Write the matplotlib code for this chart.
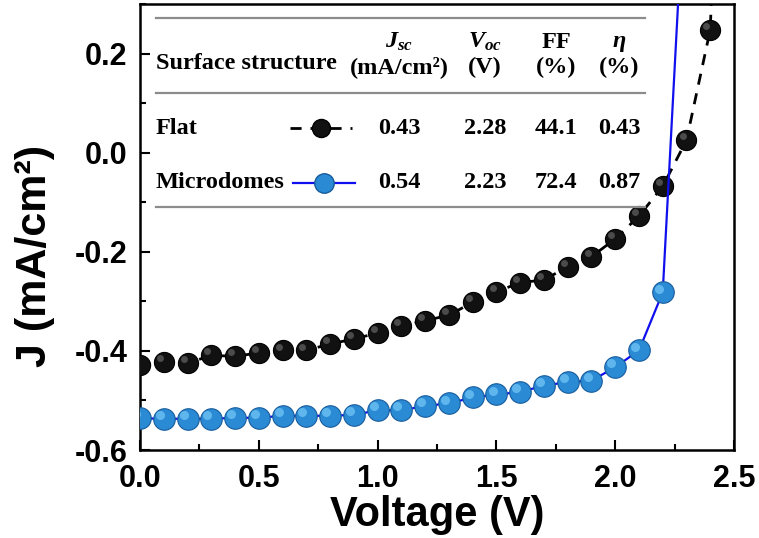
import matplotlib
matplotlib.use('Agg')
import matplotlib.pyplot as plt
import matplotlib.transforms as mtransforms
from matplotlib.lines import Line2D
from matplotlib.ticker import MultipleLocator

# ---------------- data ----------------
voltage_flat = [0.0, 0.1, 0.2, 0.3, 0.4, 0.5, 0.6, 0.7, 0.8, 0.9, 1.0, 1.1, 1.2,
                1.3, 1.4, 1.5, 1.6, 1.7, 1.8, 1.9, 2.0, 2.1, 2.2, 2.3, 2.4, 2.5]
j_flat = [-0.429, -0.423, -0.425, -0.409, -0.411, -0.404, -0.399, -0.399, -0.386,
          -0.376, -0.364, -0.350, -0.339, -0.328, -0.302, -0.281, -0.262, -0.257,
          -0.230, -0.210, -0.174, -0.128, -0.068, 0.025, 0.248, 1.5]

voltage_micro = [0.0, 0.1, 0.2, 0.3, 0.4, 0.5, 0.6, 0.7, 0.8, 0.9, 1.0, 1.1, 1.2,
                 1.3, 1.4, 1.5, 1.6, 1.7, 1.8, 1.9, 2.0, 2.1, 2.2, 2.3]
j_micro = [-0.536, -0.537, -0.537, -0.537, -0.535, -0.535, -0.531, -0.531, -0.531,
           -0.529, -0.520, -0.520, -0.511, -0.506, -0.494, -0.488, -0.483, -0.470,
           -0.463, -0.460, -0.433, -0.399, -0.282, 0.62]

table_header = ["Surface structure", "$J_{sc}$", "$V_{oc}$", "FF", "η"]
table_units = ["(mA/cm²)", "(V)", "(%)", "(%)"]
row_names = ["Flat", "Microdomes"]
row_values = [["0.43", "2.28", "44.1", "0.43"],
              ["0.54", "2.23", "72.4", "0.87"]]

xticks = [0.0, 0.5, 1.0, 1.5, 2.0, 2.5]
yticks = [-0.6, -0.4, -0.2, 0.0, 0.2]

# ---------------- style ----------------
plt.rcParams['mathtext.fontset'] = 'custom'
plt.rcParams['mathtext.it'] = 'Liberation Serif:bold:italic'
plt.rcParams['mathtext.rm'] = 'Liberation Serif:bold'

W, H = 759, 538
fig = plt.figure(figsize=(W / 100, H / 100), dpi=100)
L, R, T, B = 140, 734, 4, 450
ax = fig.add_axes([L / W, 1 - B / H, (R - L) / W, (B - T) / H])

def px(x, y):
    return x / W, 1 - y / H

black_face = '#111111'
blue_face = '#2a8ad4'
blue_edge = '#175c9c'
blue_line = '#1010ee'

# Flat curve
ax.plot(voltage_flat, j_flat, color='black', lw=2.0, dashes=(4, 3.2),
        marker='o', ms=14.5, mfc=black_face, mec='black', mew=0.8, zorder=3)
hl = ax.transData + mtransforms.ScaledTranslation(-2.8 / 72, 2.8 / 72, fig.dpi_scale_trans)
ax.plot(voltage_flat, j_flat, ls='none', marker='o', ms=5, mfc='#5a5a5a',
        mec='none', transform=hl, zorder=4, alpha=0.8)

# Microdomes curve
ax.plot(voltage_micro, j_micro, color=blue_line, lw=1.6, marker='o', ms=15.5,
        mfc=blue_face, mec=blue_edge, mew=0.8, zorder=3)
ax.plot(voltage_micro, j_micro, ls='none', marker='o', ms=6.5, mfc='#6cc2f4',
        mec='none', transform=hl, zorder=4, alpha=0.8)

ax.set_xlim(0, 2.5)
ax.set_ylim(-0.6, 0.3)
ax.set_xticks(xticks)
ax.set_yticks(yticks)
ax.xaxis.set_minor_locator(MultipleLocator(0.25))
ax.yaxis.set_minor_locator(MultipleLocator(0.1))
ax.set_xticklabels([f"{v:.1f}" for v in xticks])
ax.set_yticklabels([f"{v:.1f}" for v in yticks])
for lab in ax.get_xticklabels() + ax.get_yticklabels():
    lab.set_fontfamily('Liberation Sans')
    lab.set_fontweight('bold')
    lab.set_fontsize(22)
ax.tick_params(which='major', direction='in', length=7, width=1.5,
               top=False, right=False, pad=9)
ax.tick_params(axis='x', which='major', pad=10)
ax.tick_params(which='minor', direction='in', length=4, width=1.5,
               top=False, right=False)
for sp in ax.spines.values():
    sp.set_linewidth(1.8)

# axis labels
fig.text(*px(437, 515), "Voltage (V)", ha='center', va='center',
         fontfamily='Liberation Sans', fontweight='bold', fontsize=30)
fig.text(*px(35, 256), "J (mA/cm²)", ha='center', va='center', rotation=90,
         fontfamily='Liberation Sans', fontweight='bold', fontsize=31)

# ---------------- inset table ----------------
serif = dict(fontfamily='Liberation Serif', fontweight='bold', fontsize=17.5)
for yy in (18, 93, 207):
    fig.add_artist(Line2D([156 / W, 645 / W], [1 - yy / H, 1 - yy / H],
                          color='#8c8c8c', lw=1.6))

col_x = [399, 485, 556, 619]
fig.text(*px(156, 64), table_header[0], ha='left', va='center', **serif)
for cx, hdr, unit in zip(col_x, table_header[1:], table_units):
    if hdr == "η":
        fig.text(*px(cx, 42), hdr, ha='center', va='center', fontstyle='italic',
                 **serif)
    else:
        fig.text(*px(cx, 42), hdr, ha='center', va='center', **serif)
    fig.text(*px(cx, 67), unit, ha='center', va='center', **serif)

row_y = [128, 183]
for ry, name, vals in zip(row_y, row_names, row_values):
    fig.text(*px(156, ry), name, ha='left', va='center', **serif)
    for cx, v in zip(col_x, vals):
        fig.text(*px(cx, ry), v, ha='center', va='center', **serif)

# legend samples
fy = 1 - 128 / H
fig.add_artist(Line2D([290 / W, 352 / W], [fy, fy], color='black', lw=2.0,
                      dashes=(4, 3.2)))
fig.add_artist(Line2D([321 / W], [fy], ls='none', marker='o', ms=13,
                      mfc=black_face, mec='black'))
my = 1 - 183 / H
fig.add_artist(Line2D([293 / W, 355 / W], [my, my], color=blue_line, lw=1.6))
fig.add_artist(Line2D([324 / W], [my], ls='none', marker='o', ms=14,
                      mfc=blue_face, mec=blue_edge))

fig.savefig('out.png', dpi=100)
